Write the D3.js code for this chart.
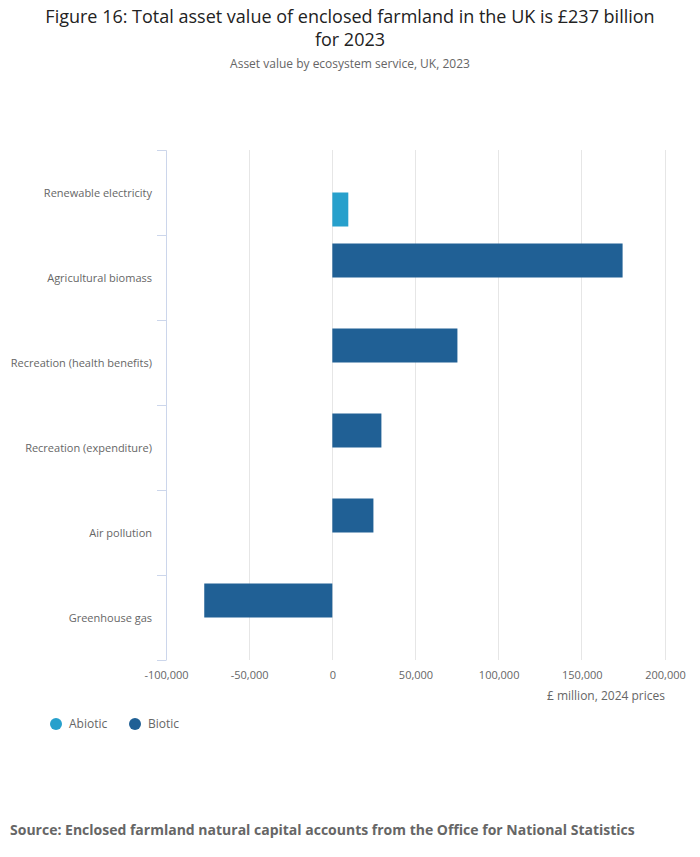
<!DOCTYPE html>
<html>
<head>
<meta charset="utf-8">
<script src="https://cdn.jsdelivr.net/npm/d3@7"></script>
<style>
  body { margin: 0; background: #fff; font-family: "Open Sans", sans-serif; }
  svg text { font-family: "Open Sans", sans-serif; }
</style>
</head>
<body>
<div id="container"></div>
<script>
// data
var categories = ["Renewable electricity", "Agricultural biomass", "Recreation (health benefits)",
  "Recreation (expenditure)", "Air pollution", "Greenhouse gas"];
var seriesNames = ["Biotic", "Abiotic"];
var abiotic = [9600, null, null, null, null, null];
var biotic = [null, 174500, 75200, 29500, 24700, -77000];
var xTicks = [-100000, -50000, 0, 50000, 100000, 150000, 200000];

var colors = { "Abiotic": "#27a0cc", "Biotic": "#206095" };
var legendOrder = ["Abiotic", "Biotic"];

var W = 700, H = 857;
var svg = d3.select("#container").append("svg")
  .attr("width", W)
  .attr("height", H);

// titles
svg.append("text")
  .attr("x", W / 2).attr("y", 23)
  .attr("text-anchor", "middle")
  .style("font-size", "18px").style("fill", "#222")
  .text("Figure 16: Total asset value of enclosed farmland in the UK is £237 billion");
svg.append("text")
  .attr("x", W / 2).attr("y", 46)
  .attr("text-anchor", "middle")
  .style("font-size", "18px").style("fill", "#222")
  .text("for 2023");
svg.append("text")
  .attr("x", W / 2).attr("y", 68)
  .attr("text-anchor", "middle")
  .style("font-size", "12px").style("fill", "#666")
  .text("Asset value by ecosystem service, UK, 2023");

var plotLeft = 166, plotRight = 665, plotTop = 150, plotBottom = 660;

var x = d3.scaleLinear()
  .domain([-100000, 200000])
  .range([plotLeft, plotRight]);

var y = d3.scaleBand()
  .domain(categories)
  .range([plotTop, plotBottom]);

var ySub = d3.scaleBand()
  .domain(seriesNames)
  .range([0, y.bandwidth()])
  .paddingOuter(0.25);

// grid
svg.append("g").selectAll("line")
  .data(xTicks).enter()
  .append("line")
  .attr("x1", function(d) { return x(d); })
  .attr("x2", function(d) { return x(d); })
  .attr("y1", plotTop).attr("y2", plotBottom)
  .style("stroke", "#e6e6e6")
  .style("stroke-width", 1)
  .attr("shape-rendering", "crispEdges");

// x axis labels (plain hyphen for negatives, like the original)
var fmt = d3.format(",d");
var xAxis = d3.axisBottom(x)
  .tickValues(xTicks)
  .tickSize(0)
  .tickPadding(0)
  .tickFormat(function(d) { return fmt(d).replace("\u2212", "-"); });
var gx = svg.append("g")
  .attr("transform", "translate(0," + (plotBottom + 19) + ")")
  .call(xAxis);
gx.select(".domain").remove();
gx.selectAll("text")
  .attr("dy", 0)
  .style("font-size", "11px").style("fill", "#666");

svg.append("text")
  .attr("x", plotRight).attr("y", 700)
  .attr("text-anchor", "end")
  .style("font-size", "12px").style("fill", "#666")
  .text("£ million, 2024 prices");

// y axis
var yAxis = d3.axisLeft(y).tickSize(0).tickPadding(14);
var gy = svg.append("g")
  .attr("transform", "translate(" + plotLeft + ",1)")
  .call(yAxis);
gy.select(".domain")
  .attr("transform", "translate(0,-1)")
  .style("stroke", "#ccd6eb");
gy.selectAll("text")
  .style("font-size", "11px").style("fill", "#666");

// ticks at band boundaries
var bounds = categories.map(function(c) { return y(c); }).concat([plotBottom]);
svg.append("g").selectAll("line")
  .data(bounds).enter()
  .append("line")
  .attr("x1", plotLeft - 9).attr("x2", plotLeft)
  .attr("y1", function(d) { return d; })
  .attr("y2", function(d) { return d; })
  .style("stroke", "#ccd6eb")
  .attr("shape-rendering", "crispEdges");

// bars
var rows = [];
categories.forEach(function(c, i) {
  if (abiotic[i] != null) rows.push({ cat: c, series: "Abiotic", value: abiotic[i] });
  if (biotic[i] != null) rows.push({ cat: c, series: "Biotic", value: biotic[i] });
});

svg.append("g").selectAll("rect")
  .data(rows).enter()
  .append("rect")
  .attr("x", function(d) { return x(Math.min(0, d.value)); })
  .attr("width", function(d) { return Math.abs(x(d.value) - x(0)); })
  .attr("y", function(d) { return y(d.cat) + ySub(d.series); })
  .attr("height", ySub.bandwidth())
  .style("fill", function(d) { return colors[d.series]; });

// legend
var leg = svg.append("g").selectAll("g")
  .data(legendOrder).enter()
  .append("g")
  .attr("transform", function(d, i) { return "translate(" + (56 + i * 79) + ",724)"; });
leg.append("circle")
  .attr("r", 6)
  .style("fill", function(d) { return colors[d]; });
leg.append("text")
  .attr("x", 13).attr("y", 4)
  .style("font-size", "12px").style("fill", "#666")
  .text(function(d) { return d; });

// source
svg.append("text")
  .attr("x", 10).attr("y", 835)
  .style("font-size", "14px").style("font-weight", "bold").style("fill", "#666")
  .text("Source: Enclosed farmland natural capital accounts from the Office for National Statistics");
</script>
</body>
</html>
